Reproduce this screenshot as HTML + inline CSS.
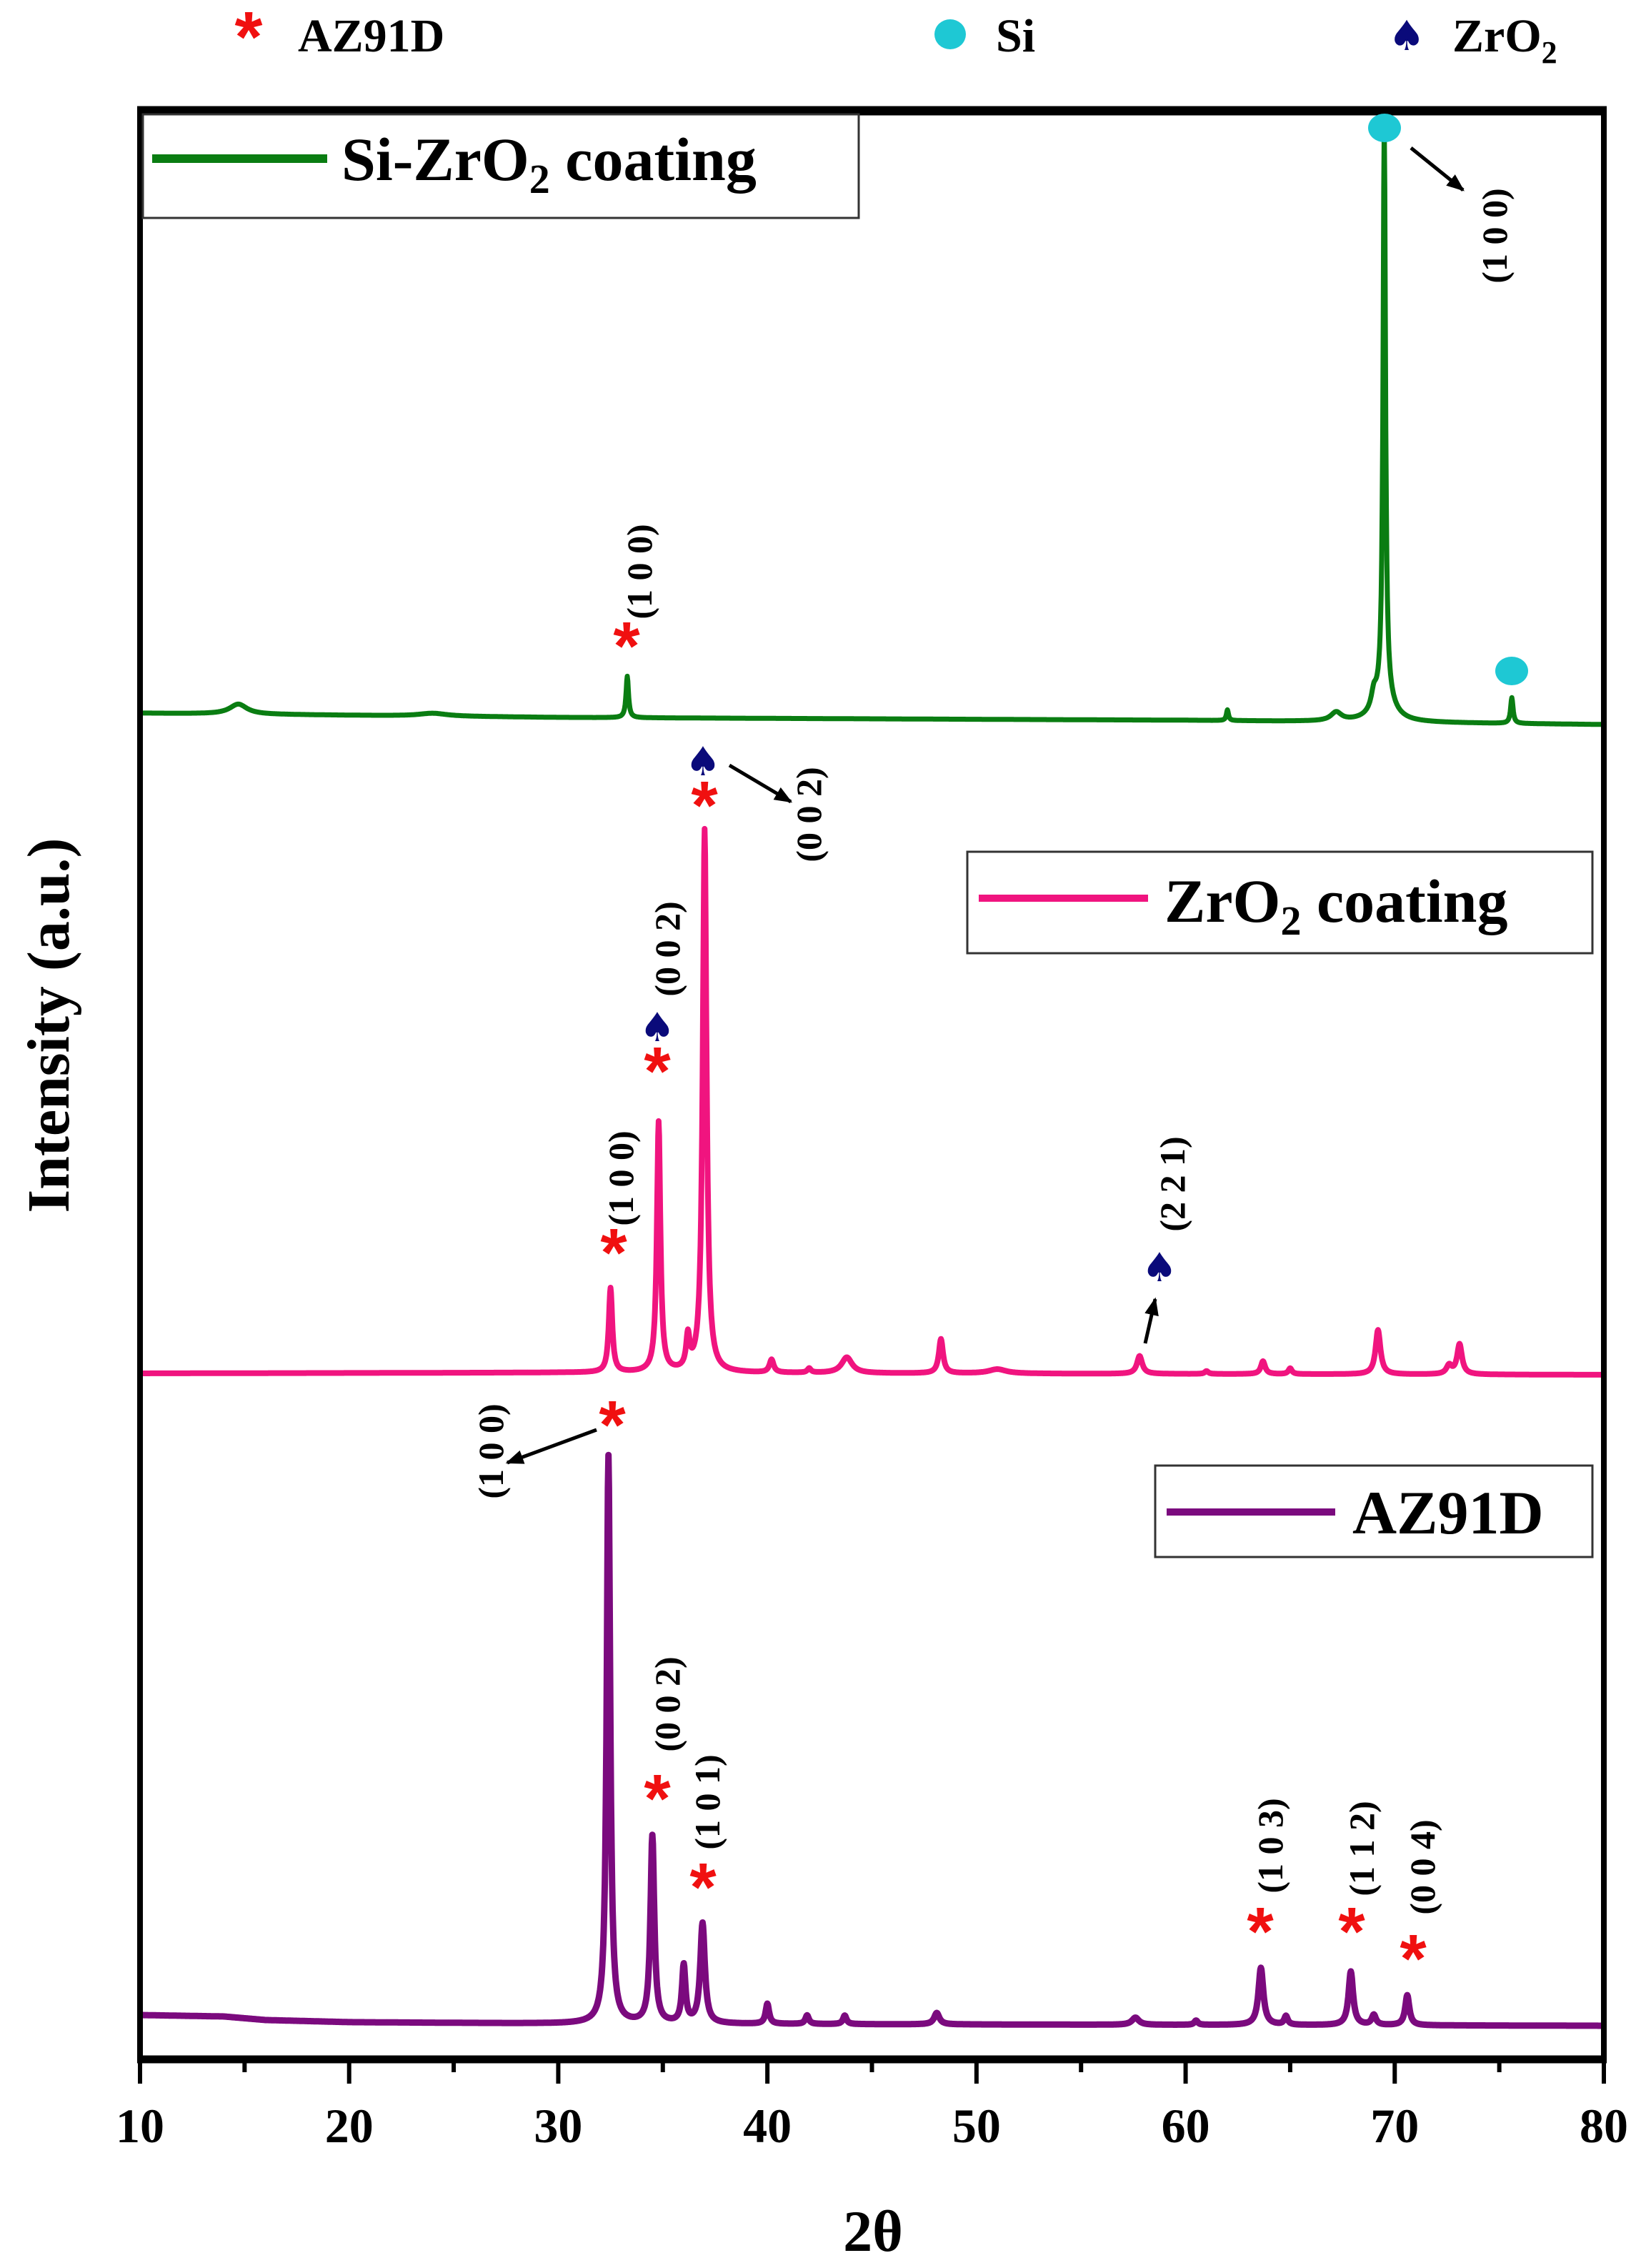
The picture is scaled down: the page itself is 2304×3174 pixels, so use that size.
<!DOCTYPE html>
<html><head><meta charset="utf-8"><style>
html,body{margin:0;padding:0;background:#fff;}
svg{display:block;font-family:"Liberation Serif",serif;font-weight:bold;}
</style></head><body>
<svg id="chart" width="2304" height="3174" viewBox="0 0 2304 3174">
<defs><marker id="ah" viewBox="0 0 10 10" refX="9" refY="5" markerWidth="5" markerHeight="5" orient="auto"><path d="M0,1 L10,5 L0,9 z" fill="#000"/></marker></defs>
<g id="plot"></g>
<g id="axes"></g>
<g id="ann"></g>
</svg>
<script>
// x-axis
const xTicks=[10,20,30,40,50,60,70,80];
const xMinor=[15,25,35,45,55,65,75];
// series baselines [x, value]
const purpleBase=[[10,62],[14,60],[16,55],[20,52],[30,50],[80,47]];
const pinkBase=[[10,960],[30,961],[80,958]];
const greenBase=[[10,1884],[30,1878],[60,1874],[80,1868]];
// peaks: [center, height, hwhm]
const purplePeaks=[[32.4,795,0.1],[34.5,262,0.11],[36.0,80,0.1],[36.9,140,0.13],[40.0,28,0.1],[41.9,12,0.1],[43.7,12,0.1],[48.1,16,0.15],[57.6,10,0.2],[60.5,6,0.1],[63.6,80,0.14],[64.8,12,0.1],[67.9,75,0.13],[69.0,14,0.12],[70.6,42,0.12]];
const pinkPeaks=[[32.5,118,0.1],[34.8,350,0.1],[36.2,45,0.1],[37.0,760,0.11],[40.2,18,0.12],[42,6,0.1],[43.8,22,0.3],[48.3,48,0.12],[51,6,0.5],[57.8,25,0.15],[61,4,0.1],[63.7,18,0.12],[65,8,0.1],[69.2,62,0.14],[72.6,12,0.15],[73.1,42,0.14]];
const greenPeaks=[[14.7,14,0.5],[24,4,0.8],[33.3,58,0.07],[62,15,0.06],[67.2,12,0.3],[69.0,22,0.15],[69.5,800,0.07],[69.5,35,0.5],[75.6,36,0.07]];

const X0=10,X1=80,PX0=196,PX1=2245,PY0=2882;
const xs=v=>PX0+(v-X0)*(PX1-PX0)/(X1-X0);
const ys=v=>PY0-v;
const NS="http://www.w3.org/2000/svg";
function mk(tag,attrs,parent){const e=document.createElementNS(NS,tag);for(const k in attrs)e.setAttribute(k,attrs[k]);parent.appendChild(e);return e;}
function baseAt(b,x){for(let i=0;i<b.length-1;i++){if(x<=b[i+1][0]){const t=(x-b[i][0])/(b[i+1][0]-b[i][0]);return b[i][1]+t*(b[i+1][1]-b[i][1]);}}return b[b.length-1][1];}
function curve(base,peaks){let d="";for(let x=X0;x<=X1+1e-9;x+=0.025){let v=baseAt(base,x);for(const p of peaks){const u=(x-p[0])/p[2];v+=p[1]/(1+u*u);}d+=(d?"L":"M")+xs(x).toFixed(1)+","+ys(v).toFixed(1);}return d;}
const plot=document.getElementById('plot');
const sp=mk('path',{d:curve(purpleBase,purplePeaks),fill:'none',stroke:'#7b0a7e','stroke-width':9,'stroke-linejoin':'round'},plot);


const spk=mk('path',{d:curve(pinkBase,pinkPeaks),fill:'none',stroke:'#f0147f','stroke-width':8,'stroke-linejoin':'round'},plot);


const sg=mk('path',{d:curve(greenBase,greenPeaks),fill:'none',stroke:'#0a7d12','stroke-width':7,'stroke-linejoin':'round'},plot);



const axes=document.getElementById('axes');
const fr=mk('rect',{x:PX0,y:155,width:PX1-PX0,height:2727,fill:'none',stroke:'#000','stroke-width':8},axes);


mk('line',{x1:PX0-4,y1:155,x2:PX1+4,y2:155,stroke:'#000','stroke-width':13},axes);
mk('line',{x1:PX0-4,y1:2882,x2:PX1+4,y2:2882,stroke:'#000','stroke-width':11},axes);
for(const t of xTicks){
  mk('line',{x1:xs(t),y1:2882,x2:xs(t),y2:2916,stroke:'#000','stroke-width':6},axes);
  const tl=mk('text',{x:xs(t),y:2998,'text-anchor':'middle','font-size':68},axes);tl.textContent=t;
  
  
}
for(const t of xMinor){mk('line',{x1:xs(t),y1:2882,x2:xs(t),y2:2900,stroke:'#000','stroke-width':6},axes);}
const xt=mk('text',{x:1222,y:3150,'text-anchor':'middle','font-size':82},axes);xt.textContent='2θ';


const yt=mk('text',{x:0,y:0,'text-anchor':'middle','font-size':84,transform:'translate(96,1435) rotate(-90)'},axes);yt.textContent='Intensity (a.u.)';



const ann=document.getElementById('ann');
function star(x,y){const t=mk('text',{x:x,y:y+34,'text-anchor':'middle','font-size':96,fill:'#f01010','font-family':'Liberation Sans, sans-serif'},ann);t.textContent='*';

}
function spade(x,y){const t=mk('text',{x:x,y:y+18,'text-anchor':'middle','font-size':56,fill:'#0a0a7a','font-family':'DejaVu Sans, sans-serif'},ann);t.textContent='♠';

}
function dot(x,y){const e=mk('ellipse',{cx:x,cy:y,rx:23,ry:20,fill:'#1ec8d4'},ann);

}
function hkl(s,x,y){const t=mk('text',{x:0,y:0,'text-anchor':'middle','font-size':50,transform:`translate(${x+17},${y}) rotate(-90)`},ann);t.textContent=s;

}
function arrow(x1,y1,x2,y2){const l=mk('line',{x1,y1,x2,y2,stroke:'#000','stroke-width':5,'marker-end':'url(#ah)'},ann);

}
// green
star(877,903);hkl('(1 0 0)',895,800);
dot(1938,179);arrow(1975,207,2048,266);hkl('(1 0 0)',2092,330);
dot(2116,939);
// pink
spade(984,1067);star(986,1126);arrow(1021,1071,1107,1122);hkl('(0 0 2)',1132,1140);
spade(920,1439);star(920,1498);hkl('(0 0 2)',934,1328);
star(859,1752);hkl('(1 0 0)',869,1649);
spade(1623,1775);arrow(1603,1880,1617,1818);hkl('(2 2 1)',1641,1657);
// purple
star(857,1993);arrow(835,2001,710,2047);hkl('(1 0 0)',687,2031);
star(920,2516);hkl('(0 0 2)',934,2385);
star(984,2640);hkl('(1 0 1)',990,2522);
star(1764,2702);hkl('(1 0 3)',1778,2583);
star(1892,2702);hkl('(1 1 2)',1906,2587);
star(1978,2740);hkl('(0 0 4)',1991,2613);
</script>
<div style="position:absolute;left:0;top:0;width:2304px;height:3174px;pointer-events:none">
<svg width="2304" height="3174" style="font-family:'Liberation Serif',serif;font-weight:bold">
 <g>
  <text x="348" y="86" text-anchor="middle" font-size="100" fill="#f01010" font-family="Liberation Sans, sans-serif">*</text>
  <text x="417" y="72" font-size="66">AZ91D</text>
  <ellipse cx="1330" cy="48" rx="22" ry="21" fill="#1ec8d4"/>
  <text x="1394" y="72" font-size="66">Si</text>
  <text x="1969" y="70" text-anchor="middle" font-size="58" fill="#0a0a7a" font-family="DejaVu Sans, sans-serif">♠</text>
  <text x="2033" y="72" font-size="66">ZrO<tspan font-size="44" dy="16">2</tspan></text>
 </g>
 <g>
  <rect x="200" y="160" width="1002" height="145" fill="#fff" stroke="#333" stroke-width="3"/>
  <line x1="213" y1="222" x2="458" y2="222" stroke="#0a7d12" stroke-width="12"/>
  <text x="478" y="252" font-size="86">Si-ZrO<tspan font-size="58" dy="18">2</tspan><tspan dy="-18"> coating</tspan></text>
 </g>
 <g>
  <rect x="1354" y="1192" width="875" height="142" fill="#fff" stroke="#333" stroke-width="3"/>
  <line x1="1370" y1="1257" x2="1607" y2="1257" stroke="#f0147f" stroke-width="10"/>
  <text x="1630" y="1290" font-size="86">ZrO<tspan font-size="58" dy="18">2</tspan><tspan dy="-18"> coating</tspan></text>
 </g>
 <g>
  <rect x="1617" y="2051" width="612" height="128" fill="#fff" stroke="#333" stroke-width="3"/>
  <line x1="1633" y1="2116" x2="1869" y2="2116" stroke="#7b0a7e" stroke-width="10"/>
  <text x="1893" y="2146" font-size="86">AZ91D</text>
 </g>
</svg>
</div>
</body></html>
